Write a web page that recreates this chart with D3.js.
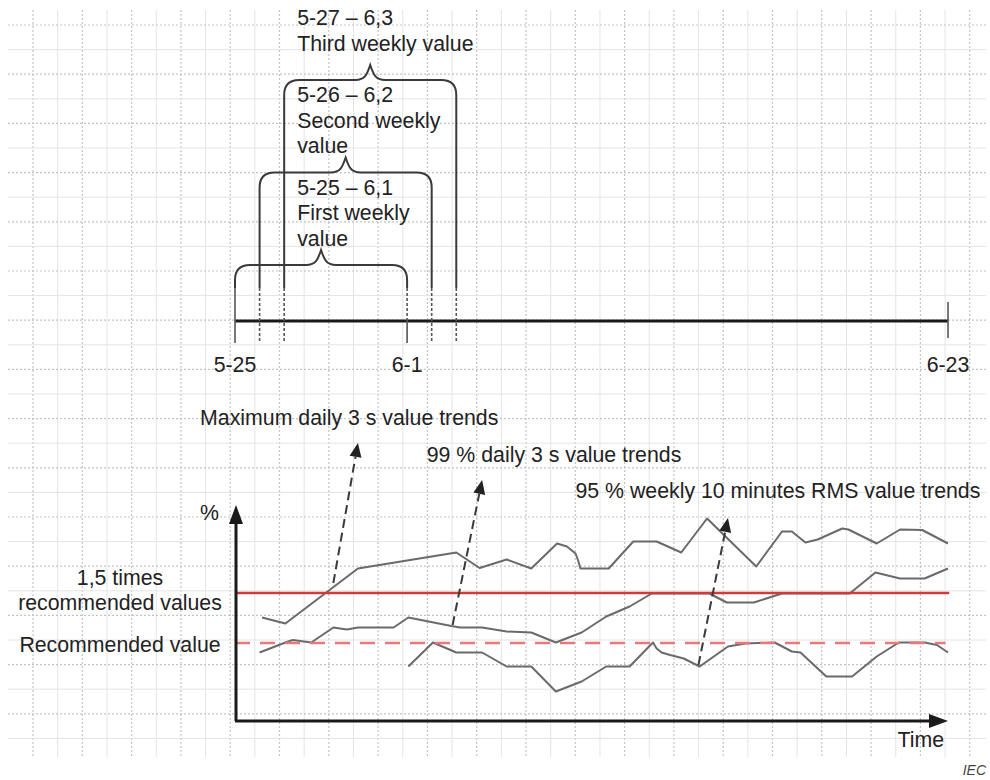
<!DOCTYPE html>
<html>
<head>
<meta charset="utf-8">
<script src="https://cdn.jsdelivr.net/npm/d3@7"></script>
<style>
  body { margin: 0; background: #fff; }
  svg { display: block; font-family: "Liberation Sans", Arial, sans-serif; }
</style>
</head>
<body>
<svg id="chart" width="990" height="780"></svg>
<script>
// 時間軸（日数は 5-25 からの経過日）
const timelineDays = [0, 7, 29];
const timelineLabels = ["5-25", "6-1", "6-23"];
const dottedDays = [1, 2, 8, 9];

// 週間値の括弧
const weekStart = [0, 1, 2];
const weekEnd = [7, 8, 9];
const weekRange = ["5-25 – 6,1", "5-26 – 6,2", "5-27 – 6,3"];
const weekName = [["First weekly", "value"], ["Second weekly", "value"], ["Third weekly value"]];

// 推移（日, %）
const maxDays = [1.1, 2.05, 5, 9, 9.95, 11.05, 12.05, 13.1, 13.5, 13.85, 13.95, 14.05, 15.2, 16.2, 17.15, 18.15, 19.2, 21.2, 22.25, 22.65, 23.2, 23.7, 24.7, 24.95, 26.1, 27.05, 27.95, 29];
const maxVals = [125.5, 119.5, 174.5, 190.5, 175, 183.5, 174.5, 199.5, 196.5, 189.5, 183, 174.5, 174.5, 201.5, 201.5, 190.5, 224.5, 176.5, 211.5, 211.5, 200.5, 203.5, 214.5, 213.5, 199.5, 213.5, 213, 199.5];

const p99Days = [1, 2.05, 2.35, 3.1, 4, 4.55, 5, 6.45, 7.05, 8.8, 9.15, 10.05, 11.05, 12.05, 13.05, 14.1, 15.1, 16.05, 16.95, 19.3, 20, 21.1, 22.25, 25, 26.05, 27.05, 28.05, 29];
const p99Vals = [90.5, 100.5, 103, 100.5, 115.5, 113.5, 115.5, 115.5, 125.5, 117, 115.5, 115.5, 111.5, 110.5, 100.5, 110.5, 126.5, 136.5, 149.5, 149.5, 140.5, 140.5, 149.5, 149.5, 170.5, 164.5, 164.5, 174.5];

const p95Days = [7.05, 8.05, 9, 10.05, 11.05, 12.05, 13.05, 14.1, 15.1, 16.05, 17, 17.15, 17.35, 17.7, 18.25, 18.9, 20.05, 20.75, 21.95, 22.65, 23, 24.05, 25.1, 26.1, 27, 28.05, 28.55, 29];
const p95Vals = [76.5, 100.5, 90.5, 90.5, 76.5, 76.5, 51.5, 61.5, 76.5, 76.5, 100.5, 94.5, 90.5, 88, 84.5, 76.5, 96.5, 99.5, 100.5, 91.5, 90.5, 66.5, 66.5, 86.5, 100.5, 100.5, 98, 90.5];

// 基準値
const recommended = 100;
const recommended15 = 150;

// 注記
const trendLabels = ["Maximum daily 3 s value trends", "99 % daily 3 s value trends", "95 % weekly 10 minutes RMS value trends"];
const arrowFrom = [[4, 160], [8.85, 118], [18.85, 78]];
const arrowTo = [[5, 300], [10.05, 263], [20.05, 225]];
const labelAt = [[-1.42, 318], [7.8, 281], [13.85, 245]];

const FS = "21.3px";
const svg = d3.select("#chart");
const x = d3.scaleLinear().domain([0, 29]).range([235, 948]);
const y = d3.scaleLinear().domain([100, 150]).range([643, 593]);
const level = d3.scaleLinear().domain([0, 2]).range([265, 80]);
const lineY = 321;

// 方眼
const grid = svg.append("g");
d3.range(0, 40).forEach(k => {
  const gx = 33 + k * 24.65;
  grid.append("line")
    .attr("x1", gx).attr("x2", gx).attr("y1", 10).attr("y2", 757)
    .attr("stroke", k % 2 ? "#e4e4e4" : "#c4c4c4")
    .attr("stroke-width", k % 2 ? 1 : 1.2)
    .attr("stroke-dasharray", k % 2 ? null : "2,2");
});
d3.range(0, 30).forEach(k => {
  const gy = 25 + k * 24.6;
  grid.append("line")
    .attr("x1", 8).attr("x2", 986).attr("y1", gy).attr("y2", gy)
    .attr("stroke", k % 2 ? "#e4e4e4" : "#c4c4c4")
    .attr("stroke-width", k % 2 ? 1 : 1.2)
    .attr("stroke-dasharray", k % 2 ? null : "2,2");
});

// 時間軸
svg.append("line")
  .attr("x1", x(0)).attr("x2", x(29)).attr("y1", lineY).attr("y2", lineY)
  .attr("stroke", "#1a1a1a").attr("stroke-width", 3);

dottedDays.forEach(d => {
  svg.append("line")
    .attr("x1", x(d)).attr("x2", x(d)).attr("y1", 288).attr("y2", 343)
    .attr("stroke", "#555").attr("stroke-width", 1.6).attr("stroke-dasharray", "3,2");
});
// 5-25
svg.append("line").attr("x1", x(0)).attr("x2", x(0)).attr("y1", 288).attr("y2", 343)
  .attr("stroke", "#555").attr("stroke-width", 1.6);
// 6-1
svg.append("line").attr("x1", x(7)).attr("x2", x(7)).attr("y1", 288).attr("y2", lineY)
  .attr("stroke", "#555").attr("stroke-width", 1.6).attr("stroke-dasharray", "3,2");
svg.append("line").attr("x1", x(7)).attr("x2", x(7)).attr("y1", lineY).attr("y2", 343)
  .attr("stroke", "#555").attr("stroke-width", 1.6);
// 6-23
svg.append("line").attr("x1", x(29)).attr("x2", x(29)).attr("y1", 302).attr("y2", 338)
  .attr("stroke", "#555").attr("stroke-width", 1.6);

svg.selectAll(".tl")
  .data(timelineDays)
  .enter()
  .append("text")
  .attr("x", d => x(d))
  .attr("y", 372)
  .attr("text-anchor", "middle")
  .attr("font-size", FS)
  .attr("fill", "#222")
  .text((d, i) => timelineLabels[i]);

// 括弧
function brace(x0, x1, top, bottom) {
  const r = 15, xm = (x0 + x1) / 2;
  return `M${x0},${bottom} L${x0},${top + r} Q${x0},${top} ${x0 + r},${top}` +
    ` L${xm - 15},${top} C${xm - 5},${top} ${xm - 3},${top - 6} ${xm},${top - 15}` +
    ` C${xm + 3},${top - 6} ${xm + 5},${top} ${xm + 15},${top}` +
    ` L${x1 - r},${top} Q${x1},${top} ${x1},${top + r} L${x1},${bottom}`;
}

weekStart.forEach((s, i) => {
  const top = level(i);
  svg.append("path")
    .attr("d", brace(x(s), x(weekEnd[i]), top, 288))
    .attr("fill", "none")
    .attr("stroke", "#3a3a3a")
    .attr("stroke-width", 2);

  const lines = [weekRange[i]].concat(weekName[i]);
  const first = i === 2 ? 25 : level(i + 1) + 22;
  lines.forEach((t, j) => {
    svg.append("text")
      .attr("x", x(2) + 13)
      .attr("y", first + j * 25.5)
      .attr("font-size", FS)
      .attr("fill", "#222")
      .text(t);
  });
});

// 推移グラフ
const line = d3.line().x(d => x(d[0])).y(d => y(d[1]));
[[maxDays, maxVals], [p99Days, p99Vals], [p95Days, p95Vals]].forEach(([ds, vs]) => {
  svg.append("path")
    .attr("d", line(ds.map((d, i) => [d, vs[i]])))
    .attr("fill", "none")
    .attr("stroke", "#6a6a6a")
    .attr("stroke-width", 2)
    .attr("stroke-linejoin", "round");
});

// 基準線
svg.append("line")
  .attr("x1", x(0)).attr("x2", x(29.05))
  .attr("y1", y(recommended15)).attr("y2", y(recommended15))
  .attr("stroke", "#d23b3b").attr("stroke-width", 2.5);
svg.append("line")
  .attr("x1", x(0)).attr("x2", x(28.9))
  .attr("y1", y(recommended)).attr("y2", y(recommended))
  .attr("stroke", "#e57a7a").attr("stroke-width", 2.5)
  .attr("stroke-dasharray", "15,10");

// 軸
svg.append("line")
  .attr("x1", x(0) + 1).attr("x2", x(0) + 1).attr("y1", y(22)).attr("y2", y(230))
  .attr("stroke", "#1a1a1a").attr("stroke-width", 3);
svg.append("path")
  .attr("d", `M${x(0) + 1},${y(238)} L${x(0) + 8},${y(219)} L${x(0) - 6},${y(219)} Z`)
  .attr("fill", "#1a1a1a");
svg.append("line")
  .attr("x1", x(0)).attr("x2", x(28.7)).attr("y1", y(22)).attr("y2", y(22))
  .attr("stroke", "#1a1a1a").attr("stroke-width", 3);
svg.append("path")
  .attr("d", `M${x(29)},${y(22)} L${x(29) - 19},${y(22) - 7} L${x(29) - 19},${y(22) + 7} Z`)
  .attr("fill", "#1a1a1a");

svg.append("text").attr("x", 219).attr("y", 520).attr("text-anchor", "end")
  .attr("font-size", FS).attr("fill", "#222").text("%");
svg.append("text").attr("x", 944).attr("y", 747).attr("text-anchor", "end")
  .attr("font-size", FS).attr("fill", "#222").text("Time");

// 左側ラベル
svg.append("text").attr("x", 120).attr("y", y(recommended15) - 8).attr("text-anchor", "middle")
  .attr("font-size", FS).attr("fill", "#222").text("1,5 times");
svg.append("text").attr("x", 120).attr("y", y(recommended15) + 17).attr("text-anchor", "middle")
  .attr("font-size", FS).attr("fill", "#222").text("recommended values");
svg.append("text").attr("x", 120).attr("y", y(recommended) + 9).attr("text-anchor", "middle")
  .attr("font-size", FS).attr("fill", "#222").text("Recommended value");

// 注記の矢印
trendLabels.forEach((t, i) => {
  const x0 = x(arrowFrom[i][0]), y0 = y(arrowFrom[i][1]);
  const x1 = x(arrowTo[i][0]), y1 = y(arrowTo[i][1]);
  const a = Math.atan2(y1 - y0, x1 - x0);
  const len = 14, w = 6;
  const bx = x1 - len * Math.cos(a), by = y1 - len * Math.sin(a);
  svg.append("line")
    .attr("x1", x0).attr("y1", y0).attr("x2", bx).attr("y2", by)
    .attr("stroke", "#3a3a3a").attr("stroke-width", 2)
    .attr("stroke-dasharray", "9,5");
  svg.append("path")
    .attr("d", `M${x1},${y1} L${bx + w * Math.sin(a)},${by - w * Math.cos(a)} L${bx - w * Math.sin(a)},${by + w * Math.cos(a)} Z`)
    .attr("fill", "#222");
  svg.append("text")
    .attr("x", x(labelAt[i][0]))
    .attr("y", y(labelAt[i][1]))
    .attr("font-size", FS)
    .attr("fill", "#222")
    .text(t);
});

svg.append("text").attr("x", 986).attr("y", 775).attr("text-anchor", "end")
  .attr("font-size", "14px").attr("font-style", "italic").attr("fill", "#444").text("IEC");
</script>
</body>
</html>
